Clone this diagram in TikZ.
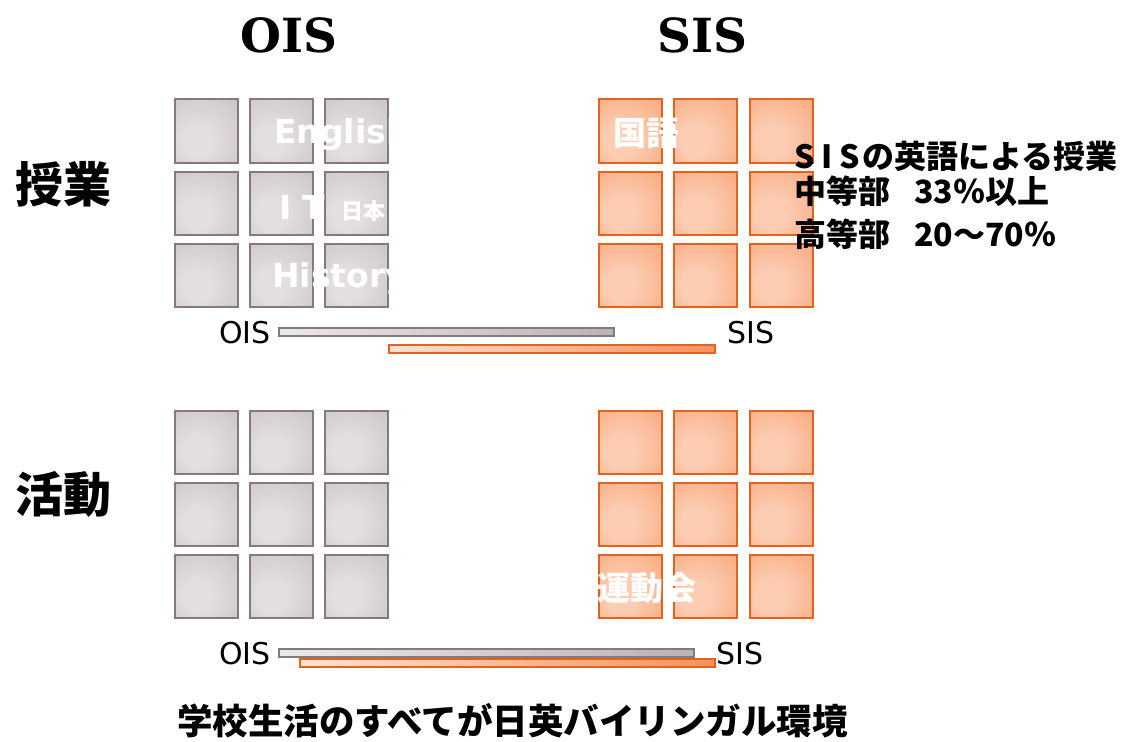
\documentclass[tikz,border=0pt]{standalone}
\usepackage{fontspec}
\newfontfamily\cjk{Noto Sans CJK JP}
\newfontfamily\dvs{DejaVu Sans}
\newfontfamily\dvserif{DejaVu Serif}
\definecolor{gIn}{HTML}{E3DFDF}
\definecolor{gOut}{HTML}{BCB2B2}
\definecolor{gBorder}{HTML}{857A7A}
\definecolor{oIn}{HTML}{FCCDB3}
\definecolor{oOut}{HTML}{F7915A}
\definecolor{oBorder}{HTML}{E0641F}
\pgfdeclareradialshading{grayglow}{\pgfpoint{-10bp}{-10bp}}{color(0bp)=(gIn); color(12bp)=(gIn); color(62bp)=(gOut)}
\pgfdeclareradialshading{orangeglow}{\pgfpoint{-10bp}{-10bp}}{color(0bp)=(oIn); color(12bp)=(oIn); color(62bp)=(oOut)}
\begin{document}
\begin{tikzpicture}[x=1bp,y=-1bp,
  graybox/.style={draw=gBorder, line width=2bp, minimum size=63bp, inner sep=0pt, shade, shading=grayglow},
  orangebox/.style={draw=oBorder, line width=2bp, minimum size=63bp, inner sep=0pt, shade, shading=orangeglow},
  graybar/.style={draw=gBorder, line width=1.6bp, inner sep=0pt, anchor=north west, left color=gIn!70!white, right color=gOut},
  orangebar/.style={draw=oBorder, line width=1.6bp, inner sep=0pt, anchor=north west, left color=oIn!60!white, right color=oOut},
  hdr/.style={font=\dvserif\bfseries\fontsize{47bp}{56bp}\selectfont, inner sep=0pt, anchor=base},
  side/.style={font=\cjk\bfseries\fontsize{48bp}{56bp}\selectfont, inner sep=0pt},
  barlbl/.style={font=\dvs\fontsize{30bp}{36bp}\selectfont, inner sep=0pt, anchor=base west},
  wlat/.style={font=\dvs\bfseries\fontsize{33bp}{40bp}\selectfont, text=white, inner sep=0pt, anchor=base west},
  wcjk/.style={font=\cjk\bfseries\fontsize{33bp}{40bp}\selectfont, text=white, inner sep=0pt, anchor=west},
  note/.style={font=\cjk\bfseries\fontsize{32bp}{36bp}\selectfont, inner sep=0pt, anchor=west},
]
\useasboundingbox (0,0) rectangle (1125,742);

% headers
\node[hdr] (hOIS) at (289,53) {OIS};
\node[hdr] (hSIS) at (702,53) {SIS};

% side labels
\node[side] (lJugyo) at (64,184) {授業};
\node[side] (lKatsudo) at (64,494) {活動};

% grids
\foreach \c/\x in {1/206.5,2/281.5,3/356.5}
  \foreach \r/\y in {1/131,2/203.5,3/275.5}
    \node[graybox] (oa\r\c) at (\x,\y) {};
\foreach \c/\x in {1/630.5,2/705.5,3/781}
  \foreach \r/\y in {1/131,2/203.5,3/275.5}
    \node[orangebox] (sa\r\c) at (\x,\y) {};
\foreach \c/\x in {1/206.5,2/281.5,3/356.5}
  \foreach \r/\y in {1/442,2/514,3/586}
    \node[graybox] (ob\r\c) at (\x,\y) {};
\foreach \c/\x in {1/630.5,2/705.5,3/781}
  \foreach \r/\y in {1/442,2/514,3/586}
    \node[orangebox] (sb\r\c) at (\x,\y) {};

% white texts on boxes
\node[wlat] (tEng) at (274,143) {English};
\node[wlat] (tIT) at (279,219) {I\,\,T};
\node[wcjk, font=\cjk\bfseries\fontsize{22bp}{26bp}\selectfont] (tJa) at (341,211) {日本};
\node[wlat] (tHist) at (272,287) {History};
\node[wcjk] (tKokugo) at (613,133) {国語};
\node[wcjk] (tUndo) at (597,588) {運動会};

% bars top
\node[graybar, minimum width=335bp, minimum height=8bp] (gbarA) at (278,327) {};
\node[orangebar, minimum width=326bp, minimum height=8bp] (obarA) at (388,344) {};
\node[barlbl] (bOA) at (219,343) {OIS};
\node[barlbl] (bSA) at (727,343) {SIS};

% bars bottom
\node[graybar, minimum width=415bp, minimum height=8bp] (gbarB) at (278,648) {};
\node[orangebar, minimum width=415bp, minimum height=8bp] (obarB) at (299,658) {};
\node[barlbl] (bOB) at (219,664) {OIS};
\node[barlbl] (bSB) at (716,664) {SIS};

% notes
\node[note] (n1) at (794,156) {S\hspace{7bp}I\hspace{7bp}S\hspace{2bp}の英語による授業};
\node[note] (n2) at (794,191) {中等部\hspace{24bp}33％以上};
\node[note] (n3) at (794,234) {高等部\hspace{24bp}20～70％};

% bottom caption
\node[note, font=\cjk\bfseries\fontsize{35.5bp}{40bp}\selectfont] (cap) at (177,721) {学校生活のすべてが日英バイリンガル環境};
\end{tikzpicture}
\end{document}
